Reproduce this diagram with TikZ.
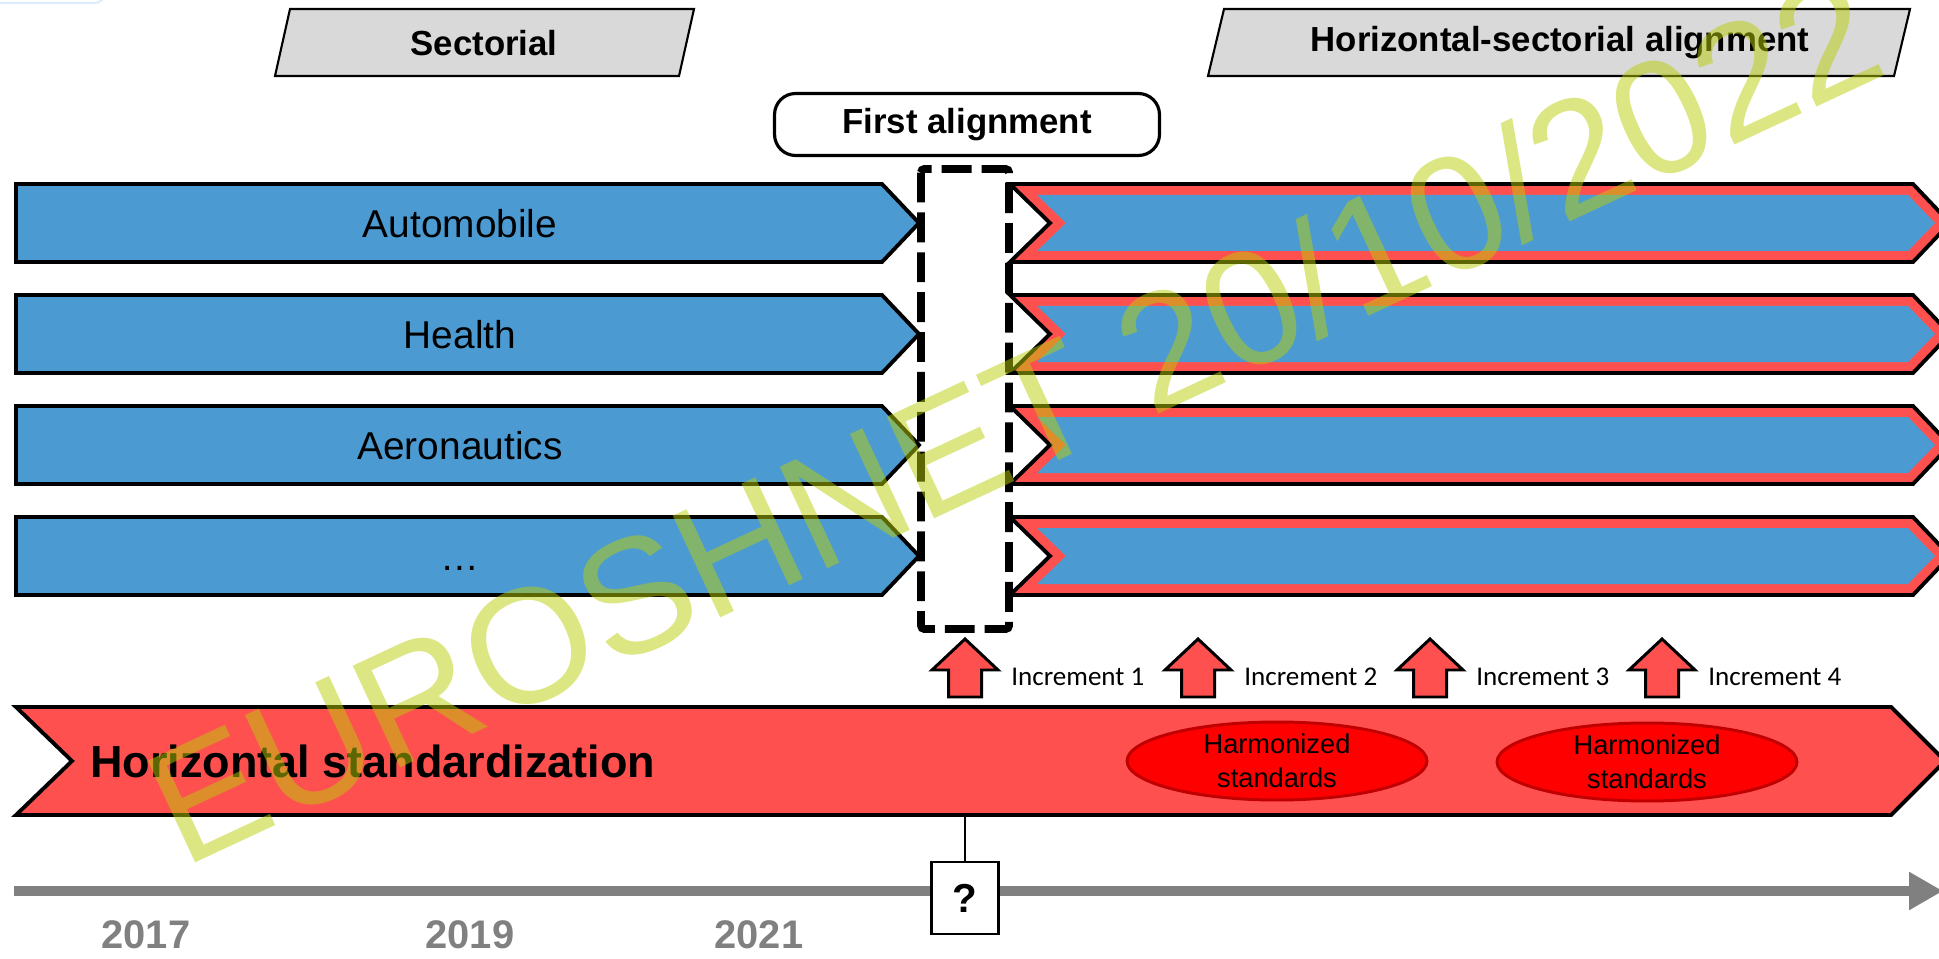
\documentclass[tikz,border=0pt]{standalone}
\usepackage{fontspec}
\setmainfont{Liberation Sans}
\newfontfamily\incfont{Carlito}
\usetikzlibrary{shapes.geometric,arrows.meta}

\definecolor{sectorblue}{RGB}{75,155,210}
\definecolor{lightred}{RGB}{255,80,80}
\definecolor{harmred}{RGB}{255,0,0}
\definecolor{harmborder}{RGB}{192,0,0}
\definecolor{taggray}{RGB}{217,217,217}
\definecolor{timegray}{RGB}{128,128,128}
\definecolor{markgreen}{RGB}{185,205,5}
\definecolor{fragblue}{RGB}{220,236,250}

\tikzset{
  sectorbar/.style={draw=black, line width=2.2pt, fill=sectorblue},
  ribbon/.style={draw=black, line width=2.2pt, fill=lightred},
  tagbox/.style={draw=black, line width=1.2pt, fill=taggray},
  tagtext/.style={font=\bfseries\fontsize{19.8}{24}\selectfont},
  sectortext/.style={font=\fontsize{22.1}{26}\selectfont, text height=16pt, text depth=0pt},
  alignframe/.style={draw=black, line width=4.5pt, dash pattern=on 17pt off 5.7pt, rounded corners=2pt},
  incarrow/.style={draw=black, line width=1.7pt, fill=lightred},
  inctext/.style={font=\incfont\fontsize{15.4}{18}\selectfont, anchor=west, inner sep=0pt},
  harmon/.style={ellipse, draw=harmborder, line width=1.7pt, fill=harmred, minimum width=6cm,
    minimum height=1.56cm, inner sep=0pt, align=center, font=\fontsize{15.5}{19.3}\selectfont},
  yeartext/.style={text=timegray, font=\bfseries\fontsize{22.7}{27}\selectfont},
  qbox/.style={draw=black, line width=1.4pt, fill=white, minimum width=1.34cm, minimum height=1.44cm,
    inner sep=0pt, font=\bfseries\fontsize{23}{27}\selectfont},
  watermark/.style={anchor=base west, rotate=25, inner sep=0pt, text=markgreen, text opacity=0.5,
    font=\fontsize{92.8}{110}\selectfont}
}

\begin{document}
\begin{tikzpicture}[x=0.02cm, y=-0.02cm, line join=miter]
  \useasboundingbox (0,0) rectangle (1939,959);
  \clip (0,0) rectangle (1939,959);

  % Corner fragment
  \draw[fragblue, line width=1.2pt, rounded corners=6pt] (-40,-40) rectangle (105,3);

  % Draw phase tags
  \draw[tagbox] (290,9) -- (694,9) -- (679,76) -- (275,76) -- cycle;
  \node[tagtext] (sectorial) at (484,43) {Sectorial};
  \draw[tagbox] (1224,9) -- (1910,9) -- (1894,76) -- (1208,76) -- cycle;
  \node[tagtext] (hsalign) at (1560,43) {Horizontal-sectorial alignment};
  \node[tagtext, draw, line width=1.8pt, rounded corners=12pt, fill=white,
    minimum width=7.7cm, minimum height=1.24cm] (first) at (967,124.5) {First alignment};

  % Loop over sectors
  \foreach \yc/\name/\lbl in {223/auto/Automobile, 334/health/Health, 445/aero/Aeronautics, 556/more/\ldots}
  {
    \pgfmathsetmacro{\ytop}{\yc-39}
    \pgfmathsetmacro{\ybot}{\yc+39}

    % Sectorial bar
    \draw[sectorbar] (16,\ytop) -- (882,\ytop) -- (919,\yc) -- (882,\ybot) -- (16,\ybot) -- cycle;
    \node[sectortext] (\name) at (460,\yc) {\lbl};

    % Aligned bar, red border round a blue core
    \draw[ribbon] (1010,\ytop) -- (1913,\ytop) -- (1950,\yc) -- (1913,\ybot) -- (1010,\ybot) -- (1050,\yc) -- cycle;
    \fill[sectorblue] (1037,\ytop+11) -- (1908,\ytop+11) -- (1935,\yc) -- (1908,\ybot-11)
      -- (1037,\ybot-11) -- (1066,\yc) -- cycle;
  }

  % Draw first alignment frame
  \draw[alignframe] (921,169) rectangle (1009,629);

  % Loop over increments
  \foreach \n/\xc in {1/965, 2/1198, 3/1430, 4/1662}
  {
    \draw[incarrow] (\xc-16.5,697) -- (\xc-16.5,670) -- (\xc-33,670) -- (\xc,639)
      -- (\xc+33,670) -- (\xc+16.5,670) -- (\xc+16.5,697) -- cycle;
    \node[inctext] (inc\n) at (\xc+46,677) {Increment \n};
  }

  % Draw horizontal bar
  \draw[ribbon] (16,707) -- (1891,707) -- (1945,761) -- (1891,815) -- (16,815) -- (72,761) -- cycle;
  \node[anchor=west, inner sep=0pt, font=\bfseries\fontsize{25.6}{30}\selectfont] (hstd) at (90,761)
    {Horizontal standardization};
  \node[harmon] (harm1) at (1277,761) {Harmonized\\standards};
  \node[harmon] (harm2) at (1647,762) {Harmonized\\standards};

  % Draw time axis
  \coordinate (tstart) at (14,891);
  \coordinate (tend) at (1943,891);
  \draw[timegray, line width=6.2pt, -{Triangle[length=0.68cm,width=0.72cm]}] (tstart) -- (tend);
  \foreach \yr/\xc in {2017/146, 2019/470, 2021/759}
    \node[yeartext] (y\yr) at (\xc,935) {\yr};

  % Open date marker
  \coordinate (hbot) at (965,815);
  \node[qbox] (q) at (965,898) {?};
  \draw[line width=1.4pt] (hbot) -- (q.north);

  % Watermark
  \node[watermark] (mark) at (183,869) {EUROSHNET 20/10/2022};
\end{tikzpicture}
\end{document}
